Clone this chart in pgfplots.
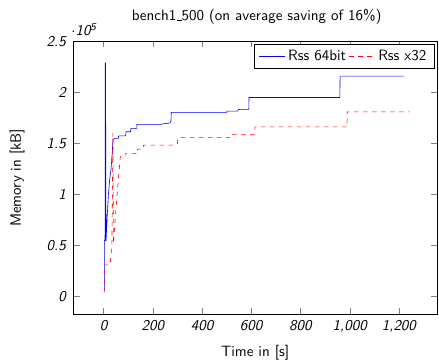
\documentclass[border=0pt]{standalone}
\usepackage{fontspec}
\usepackage{pgfplots}
\pgfplotsset{compat=1.18}
\newcommand{\lowbar}{\leavevmode\kern.06em\vbox{\hrule width.3em}}
\begin{document}
\sffamily
\begin{tikzpicture}
\begin{axis}[
  scale only axis,
  width=242.7pt, height=182.7pt,
  xmin=-123, xmax=1355,
  ymin=-17900, ymax=250500,
  xtick={0,200,400,600,800,1000,1200},
  ytick={0,50000,100000,150000,200000,250000},
  scaled y ticks=base 10:-5,
  ytick scale label code/.code={{\sffamily\itshape\addfontfeatures{LetterSpace=8}$\cdot$10\textsuperscript{#1}}},
  every y tick scale label/.style={at={(rel axis cs:0,1)},anchor=base west,inner sep=0pt,yshift=3.6pt},
  /pgf/number format/assume math mode=true,
  ticklabel style={font=\sffamily\itshape\addfontfeatures{LetterSpace=10}},
  yticklabel style={xshift=-1.5pt},
  title={bench1\lowbar500 (on average saving of 16\%)},
  title style={font=\sffamily,at={(rel axis cs:0.5,1)},anchor=base,yshift=7.7pt,xshift=1pt},
  xlabel={Time in [s]},
  xlabel style={font=\sffamily,at={(rel axis cs:0.5,0)},anchor=base,yshift=-28pt},
  ylabel={Memory in [kB]},
  ylabel style={font=\sffamily,at={([xshift=-37.5pt]rel axis cs:0,0.5)},anchor=center},
  legend columns=2,
  legend style={at={(0.992,0.99)},anchor=north east,font=\sffamily},
]
\addplot[blue] coordinates {
(3,6500)(3,55000)(6,55000)(7,229000)(8,229000)(10,54000)(15,80000)(20,101000)
(25,115000)(30,124000)(35,140000)(38,153000)(45,155000)(60,155000)(61,157500)
(90,157500)(91,161500)(110,161500)(111,164800)(135,164800)(136,168700)(230,168700)
(250,169500)(270,170000)(274,172000)(275,180400)(500,180400)(502,181700)(545,181700)
(548,183400)(590,183400)(591,195000)(960,195000)(961,216000)(1220,216000)
};
\addlegendentry{Rss 64bit}
\addplot[red,dashed] coordinates {
(3,4000)(3,31000)(27,31000)(34,52000)(38,160500)(40,52000)(55,100000)(68,137000)
(87,137000)(88,140000)(137,140000)(138,144500)(161,144500)(162,148400)(290,148400)
(300,150000)(303,156000)(520,156000)(522,158900)(614,158900)(615,166300)(989,166300)
(990,181000)(1244,181000)
};
\addlegendentry{Rss x32}
\end{axis}
\pgfresetboundingbox
\path ([shift={(-48.9pt,-31.3pt)}]current axis.south west) rectangle ([shift={(1.3pt,27.3pt)}]current axis.north east);
\end{tikzpicture}
\end{document}
